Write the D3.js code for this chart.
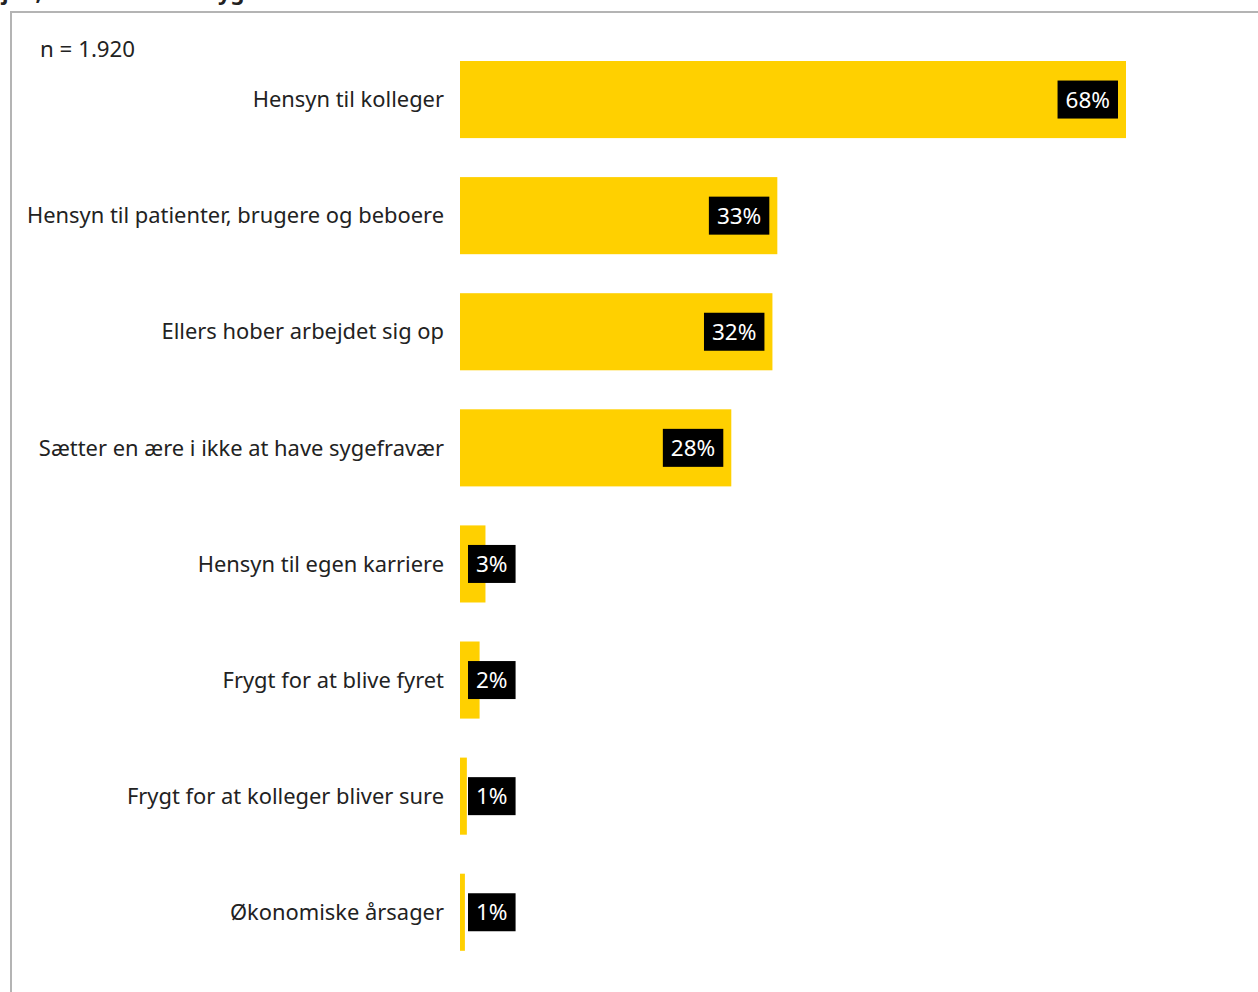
<!DOCTYPE html>
<html><head><meta charset="utf-8">
<script src="https://cdn.jsdelivr.net/npm/d3@7"></script>
<style>body{margin:0;background:#fff;overflow:hidden}svg{display:block}</style>
</head><body>
<script>
const categories = ["Hensyn til kolleger","Hensyn til patienter, brugere og beboere","Ellers hober arbejdet sig op","Sætter en ære i ikke at have sygefravær","Hensyn til egen karriere","Frygt for at blive fyret","Frygt for at kolleger bliver sure","Økonomiske årsager"];
const values = [68, 32.4, 31.9, 27.7, 2.6, 2.0, 0.7, 0.5];
const valueLabels = ["68%","33%","32%","28%","3%","2%","1%","1%"];
const title = "Hvorfor gik du på arbejde, selvom du var syg?";
const note = "n = 1.920";

const W = 1258, H = 992;
const font = "'Noto Sans', 'Open Sans', sans-serif";
const svg = d3.select("body").append("svg").attr("width", W).attr("height", H);

svg.append("text").attr("x", 255).attr("y", 0).attr("text-anchor","end")
  .attr("font-family", font).attr("font-weight","bold").attr("font-size",22).attr("fill","#222").text(title);

svg.append("rect").attr("x",11).attr("y",12).attr("width",W+20).attr("height",H+20)
  .attr("fill","none").attr("stroke","#b4b4b4").attr("stroke-width",2);

svg.append("text").attr("x",40).attr("y",57).attr("font-family",font).attr("font-size",22.3).attr("fill","#222").text(note);

const x = d3.scaleLinear().domain([0, 68]).range([460, 1126]);
const y = d3.scaleBand().domain(categories).range([41.5, 41.5 + 116.1*8]).paddingInner(0.336).paddingOuter(0.168);

const g = svg.append("g");
const rows = g.selectAll("g.row").data(categories).join("g").attr("class","row");
rows.append("rect").attr("x", x(0)).attr("y", d => y(d)).attr("height", y.bandwidth())
  .attr("width", (d,i) => x(values[i]) - x(0)).attr("fill", "#ffd000");
rows.append("text").attr("x", 444).attr("y", d => y(d) + y.bandwidth()/2).attr("dy","0.35em")
  .attr("text-anchor","end").attr("font-family",font).attr("font-size",21.9).attr("fill","#222").text(d => d);

rows.each(function(d,i){
  const r = d3.select(this);
  const t = r.append("text").attr("font-family",font).attr("font-size",22.5).attr("fill","#fff").text(valueLabels[i]);
  const w = t.node().getComputedTextLength() + 16;
  const bx = Math.max(x(values[i]) - 8 - w, 468);
  const cy = y(d) + y.bandwidth()/2;
  r.insert("rect", "text:last-child").attr("x", bx).attr("y", cy - 19).attr("width", w).attr("height", 38).attr("fill","#000");
  t.attr("x", bx + w/2).attr("y", cy).attr("dy","0.36em").attr("text-anchor","middle");
});
</script>
</body></html>
